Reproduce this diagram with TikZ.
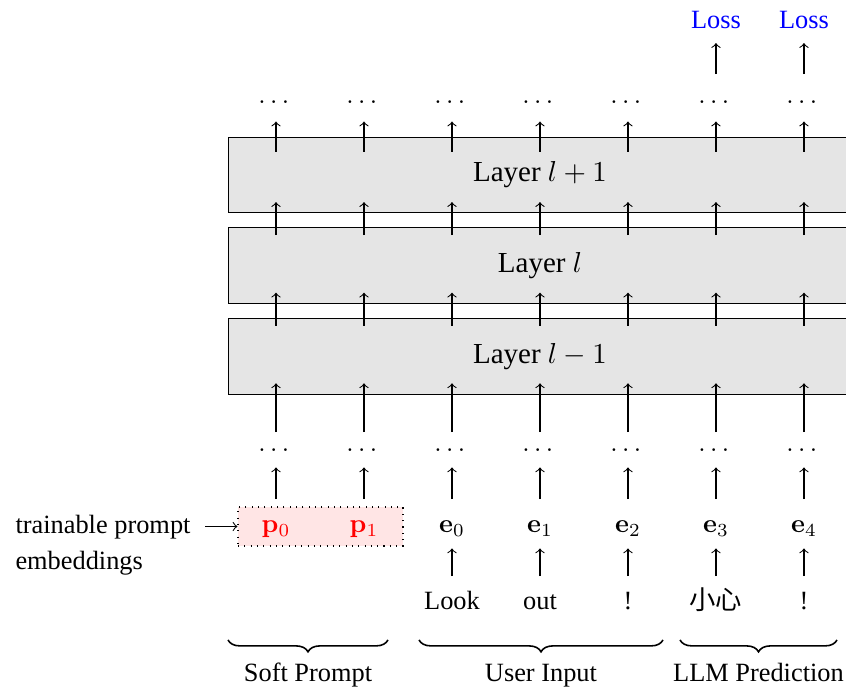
\documentclass[tikz,border=0pt]{standalone}
\usepackage{amsmath}
\usepackage[no-math]{fontspec}
\setmainfont{Liberation Serif}
\newfontfamily\cjk{Noto Sans CJK SC}
\usepackage{tikz}
\usetikzlibrary{calc,decorations.pathreplacing}

\begin{document}
\begin{tikzpicture}[
        layer/.style={draw, fill=gray!20, minimum width=8.3cm, minimum height=1.01cm, inner sep=0pt,
                      font=\fontsize{11}{13}\selectfont},
        tok/.style={inner sep=0pt, text height=1.6ex, text depth=.3ex, anchor=base},
        arr/.style={->, shorten <=5.3pt, shorten >=4.3pt},
        pass/.style={->},
        brc/.style={decorate, decoration={brace, mirror, amplitude=4.5pt}, line width=.6pt}
    ]
    \useasboundingbox (0,0) rectangle (11.28,9.173);
    \node[layer] (Lm) at (7.2,4.424) {Layer $l-1$};
    \node[layer] (L) at (7.2,5.633) {Layer $l$};
    \node[layer] (Lp) at (7.2,6.84) {Layer $l+1$};
    \node[draw, dotted, fill=red!10, minimum width=2.2cm, minimum height=.52cm] (soft) at (4.273,2.153) {};
    \foreach \i in {0,...,6} {
        \node[tok] (top-\i) at ({3.68+1.1733*\i},7.787) {$\dots$};
        \node[tok] (dots-\i) at ({3.68+1.1733*\i},3.147) {$\dots$};
    }
    \foreach \i in {0,1}
        \node[tok, text=red] (emb-\i) at ({3.68+1.1733*\i},2.067) {$\mathbf{p}_\i$};
    \foreach \i/\k in {2/0,3/1,4/2,5/3,6/4}
        \node[tok] (emb-\i) at ({3.68+1.1733*\i},2.067) {$\mathbf{e}_\k$};
    \foreach \i/\w in {2/Look,3/out,4/!,5/{\cjk 小心},6/!}
        \node[tok] (word-\i) at ({3.68+1.1733*\i},1.04) {\w};
    \foreach \i in {5,6}
        \node[tok, text=blue] (loss-\i) at ({3.68+1.1733*\i},8.787) {Loss};
    \node[anchor=west, align=left] (hint) at (0.083,1.907) {trainable prompt\\[1.5pt]embeddings};
    \draw[->, shorten <=2pt] (hint.east |- soft.west) -- (soft.west);
    % token columns
    \foreach \i in {2,...,6}
        \draw[arr] (word-\i) -- (emb-\i);
    \foreach \i in {0,...,6} {
        \draw[arr] (emb-\i) -- (dots-\i);
        \draw[pass] (dots-\i) -- ($(dots-\i |- Lm.south)+(0,.15)$);
        \draw[pass] ($(dots-\i |- Lm.north)+(0,-.107)$) -- ($(dots-\i |- L.south)+(0,.15)$);
        \draw[pass] ($(dots-\i |- L.north)+(0,-.107)$) -- ($(dots-\i |- Lp.south)+(0,.15)$);
        \draw[pass, shorten >=5.1pt] ($(top-\i |- Lp.north)+(0,-.2)$) -- (top-\i);
    }
    \foreach \i in {5,6}
        \draw[arr, shorten <=3.8pt, shorten >=3.8pt] (top-\i) -- (loss-\i);
    % groups
    \draw[brc] (3.04,0.64) -- (5.173,0.64);
    \draw[brc] (5.587,0.64) -- (8.84,0.64);
    \draw[brc] (9.067,0.64) -- (11.16,0.64);
    \node[anchor=base] (g-soft) at (4.107,0.08) {Soft Prompt};
    \node[anchor=base] (g-user) at (7.213,0.08) {User Input};
    \node[anchor=base] (g-llm) at (10.113,0.08) {LLM Prediction};
\end{tikzpicture}
\end{document}
